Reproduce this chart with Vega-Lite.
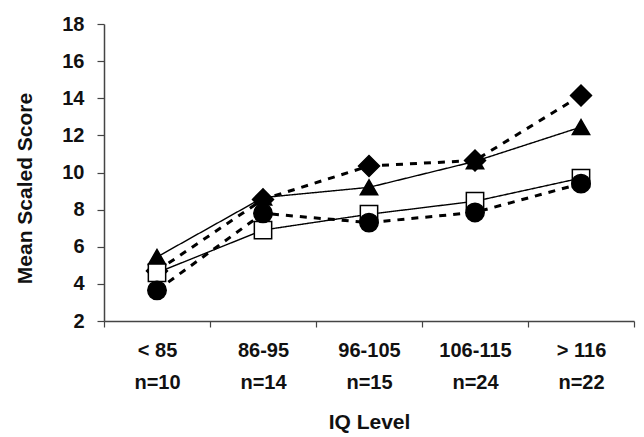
{
  "$schema": "https://vega.github.io/schema/vega-lite/v6.json",
  "autosize": "none",
  "padding": {"left": 104, "top": 24, "right": 10, "bottom": 116},
  "width": 530,
  "height": 297,
  "background": "white",
  "config": {
    "view": {"stroke": null},
    "font": "Liberation Sans"
  },
  "data": {
    "values": [
      {"iq": "< 85|n=10", "series": "S1", "score": 4.7},
      {"iq": "86-95|n=14", "series": "S1", "score": 8.55},
      {"iq": "96-105|n=15", "series": "S1", "score": 10.35},
      {"iq": "106-115|n=24", "series": "S1", "score": 10.65},
      {"iq": "> 116|n=22", "series": "S1", "score": 14.15},
      {"iq": "< 85|n=10", "series": "S2", "score": 5.45},
      {"iq": "86-95|n=14", "series": "S2", "score": 8.65},
      {"iq": "96-105|n=15", "series": "S2", "score": 9.2},
      {"iq": "106-115|n=24", "series": "S2", "score": 10.6},
      {"iq": "> 116|n=22", "series": "S2", "score": 12.45},
      {"iq": "< 85|n=10", "series": "S3", "score": 4.6},
      {"iq": "86-95|n=14", "series": "S3", "score": 6.9},
      {"iq": "96-105|n=15", "series": "S3", "score": 7.75},
      {"iq": "106-115|n=24", "series": "S3", "score": 8.45},
      {"iq": "> 116|n=22", "series": "S3", "score": 9.7},
      {"iq": "< 85|n=10", "series": "S4", "score": 3.65},
      {"iq": "86-95|n=14", "series": "S4", "score": 7.8},
      {"iq": "96-105|n=15", "series": "S4", "score": 7.3},
      {"iq": "106-115|n=24", "series": "S4", "score": 7.85},
      {"iq": "> 116|n=22", "series": "S4", "score": 9.4}
    ]
  },
  "encoding": {
    "x": {
      "field": "iq",
      "type": "ordinal",
      "sort": null,
      "scale": {"type": "band", "paddingInner": 0, "paddingOuter": 0},
      "axis": {
        "title": "IQ Level",
        "titleFont": "Liberation Sans",
        "titleFontSize": 21,
        "titleFontWeight": "bold",
        "titleColor": "#111",
        "titleY": 101,
        "titleBaseline": "middle",
        "labelExpr": "split(datum.label, '|')",
        "labelAngle": 0,
        "labelFont": "Liberation Sans",
        "labelFontSize": 20,
        "labelFontWeight": "bold",
        "labelColor": "#111",
        "labelLineHeight": 32,
        "labelPadding": 13,
        "labelBaseline": "top",
        "tickBand": "extent",
        "tickSize": 6,
        "tickColor": "#444",
        "tickWidth": 1.2,
        "domainColor": "#444",
        "domainWidth": 1.5,
        "grid": false
      }
    },
    "y": {
      "field": "score",
      "type": "quantitative",
      "scale": {"domain": [2, 18], "nice": false, "zero": false},
      "axis": {
        "title": "Mean Scaled Score",
        "titleFont": "Liberation Sans",
        "titleFontSize": 21,
        "titleFontWeight": "bold",
        "titleColor": "#111",
        "titleX": -79,
        "titleY": 164,
        "titleAngle": -90,
        "titleAlign": "center",
        "titleBaseline": "middle",
        "values": [2, 4, 6, 8, 10, 12, 14, 16, 18],
        "labelFont": "Liberation Sans",
        "labelFontSize": 20,
        "labelFontWeight": "bold",
        "labelColor": "#111",
        "labelPadding": 13,
        "tickSize": 7,
        "tickColor": "#444",
        "tickWidth": 1.2,
        "domainColor": "#444",
        "domainWidth": 1.5,
        "grid": false
      }
    }
  },
  "layer": [
    {
      "mark": {"type": "line", "color": "black"},
      "encoding": {
        "detail": {"field": "series"},
        "strokeDash": {
          "field": "series",
          "type": "nominal",
          "scale": {"type": "ordinal", "domain": ["S1", "S2", "S3", "S4"], "range": [[7, 7], [1, 0], [1, 0], [7, 7]]},
          "legend": null
        },
        "strokeWidth": {
          "field": "series",
          "type": "nominal",
          "scale": {"type": "ordinal", "domain": ["S1", "S2", "S3", "S4"], "range": [3, 1.4, 1.4, 3]},
          "legend": null
        }
      }
    },
    {
      "mark": {"type": "point", "filled": true, "opacity": 1, "stroke": "black", "strokeWidth": 1.5},
      "encoding": {
        "shape": {
          "field": "series",
          "type": "nominal",
          "scale": {"domain": ["S1", "S2", "S3", "S4"], "range": ["diamond", "triangle-up", "square", "circle"]},
          "legend": null
        },
        "fill": {
          "field": "series",
          "type": "nominal",
          "scale": {"domain": ["S1", "S2", "S3", "S4"], "range": ["black", "black", "white", "black"]},
          "legend": null
        },
        "size": {
          "field": "series",
          "type": "nominal",
          "scale": {"type": "ordinal", "domain": ["S1", "S2", "S3", "S4"], "range": [440, 300, 300, 340]},
          "legend": null
        }
      }
    }
  ]
}
